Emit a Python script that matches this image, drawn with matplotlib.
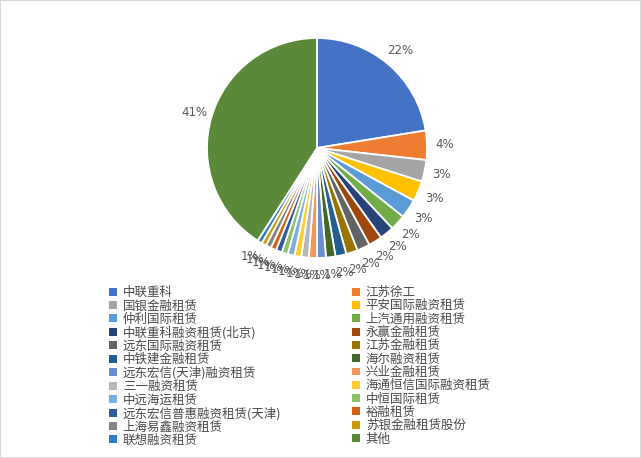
import matplotlib
matplotlib.use('Agg')
import matplotlib.pyplot as plt
from matplotlib.patches import Patch, Rectangle

plt.rcParams['font.family'] = ['Noto Sans CJK SC', 'DejaVu Sans']

# companies, in chart order (clockwise from 12 o'clock)
companies = ['中联重科', '江苏徐工', '国银金融租赁', '平安国际融资租赁', '仲利国际租赁',
             '上汽通用融资租赁', '中联重科融资租赁(北京)', '永赢金融租赁', '远东国际融资租赁',
             '江苏金融租赁', '中铁建金融租赁', '海尔融资租赁', '远东宏信(天津)融资租赁',
             '兴业金融租赁', '三一融资租赁', '海通恒信国际融资租赁', '中远海运租赁', '中恒国际租赁',
             '远东宏信普惠融资租赁(天津)', '裕融租赁', '上海易鑫融资租赁', '苏银金融租赁股份',
             '联想融资租赁', '其他']
shares = [22.5, 4.3, 3.2, 3.0, 2.8,
          2.3, 2.1, 2.0, 1.9,
          1.7, 1.6, 1.4, 1.3,
          1.2, 1.1, 1.0, 1.0, 0.9,
          0.9, 0.8, 0.8, 0.7,
          0.7, 41.0]

# office palette
colors = ['#4472C4', '#ED7D31', '#A5A5A5', '#FFC000', '#5B9BD5', '#70AD47',
          '#264478', '#9E480E', '#636363', '#997300', '#255E91', '#43682B',
          '#698ED0', '#F1975A', '#B7B7B7', '#FFCD33', '#7CAFDD', '#8CC168',
          '#335AA1', '#D26012', '#848484', '#CC9A00', '#327DC2', '#5A8A39']

W, H = 641, 458
fig = plt.figure(figsize=(W / 100, H / 100), dpi=100)

cx, cy, r = 317, 148, 110
ax = fig.add_axes([(cx - r) / W, (H - cy - r) / H, 2 * r / W, 2 * r / H])
wedges, texts, autotexts = ax.pie(
    shares, colors=colors, startangle=90, counterclock=False,
    autopct='%.0f%%', pctdistance=1.16,
    wedgeprops=dict(edgecolor='white', linewidth=1.3),
    textprops=dict(color='#595959', fontsize=8.5, family='DejaVu Sans'))
ax.set_xlim(-1, 1)
ax.set_ylim(-1, 1)

# legend, two columns filled row by row
handles = [Patch(facecolor=c, edgecolor='none') for c in colors]
for col, x0 in enumerate([109, 352]):
    idx = list(range(col, len(companies), 2))
    fig.legend([handles[i] for i in idx], [companies[i] for i in idx],
               loc='upper left', bbox_to_anchor=(x0 / W, 1 - 286 / H),
               frameon=False, ncol=1, fontsize=9, labelcolor='#4a4a4a',
               handlelength=0.6, handleheight=0.6, handletextpad=0.5,
               labelspacing=0.025, borderpad=0, borderaxespad=0)

fig.patches.append(Rectangle((0, 0), 1, 1, transform=fig.transFigure,
                             fill=False, edgecolor='#D9D9D9', linewidth=1.5))

fig.savefig('out.png', dpi=100, facecolor='white')
